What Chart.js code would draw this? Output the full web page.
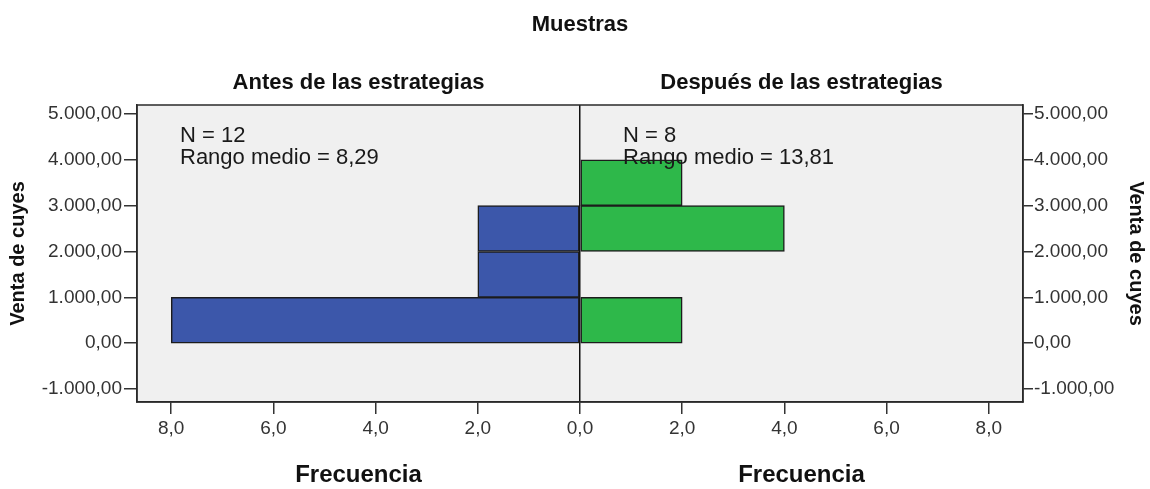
<!DOCTYPE html>
<html>
<head>
<meta charset="utf-8">
<title>Muestras</title>
<script src="https://cdn.jsdelivr.net/npm/chart.js@4.4.0/dist/chart.umd.min.js"></script>
<style>
  html, body { margin: 0; padding: 0; background: #ffffff; }
  #wrap { width: 1150px; height: 489px; }
</style>
</head>
<body>
<div id="wrap"><canvas id="c" width="1150" height="489"></canvas></div>
<script>
// Histogram bins (centre of each 1.000 wide class of "Venta de cuyes")
const binCenters = [500, 1500, 2500, 3500];
// Frequencies per bin for each sample
const antes = [8, 2, 2, 0];
const despues = [2, 0, 4, 2];
// Axis ticks
const yTicks = [-1000, 0, 1000, 2000, 3000, 4000, 5000];
const xTicks = [-8, -6, -4, -2, 0, 2, 4, 6, 8];
// Texts
const mainTitle = 'Muestras';
const groupTitles = ['Antes de las estrategias', 'Después de las estrategias'];
const groupStats = [['N = 12', 'Rango medio = 8,29'], ['N = 8', 'Rango medio = 13,81']];
const yTitle = 'Venta de cuyes';
const xTitle = 'Frecuencia';

const BLUE = '#3c57aa';
const GREEN = '#2eb84a';
const EDGE = '#1c1c1c';
const TEXT = '#111111';
const TICKTXT = '#333333';
const SANS = '"Liberation Sans", Arial, Helvetica, sans-serif';

function fmtThousands(v) {
  const neg = v < 0;
  const parts = Math.abs(v).toFixed(2).split('.');
  const ip = parts[0].replace(/\B(?=(\d{3})+(?!\d))/g, '.');
  return (neg ? '-' : '') + ip + ',' + parts[1];
}
function fmtFreq(v) {
  return Math.abs(v).toFixed(1).replace('.', ',');
}

// Plot frame: light grey panel background and dark outline
const framePlugin = {
  id: 'frame',
  beforeDraw(chart) {
    const a = chart.chartArea, ctx = chart.ctx;
    ctx.save();
    ctx.fillStyle = '#f0f0f0';
    ctx.fillRect(a.left, a.top, a.right - a.left, a.bottom - a.top);
    ctx.restore();
  },
  afterDraw(chart) {
    const a = chart.chartArea, ctx = chart.ctx;
    ctx.save();
    ctx.strokeStyle = '#2a2a2a';
    ctx.lineWidth = 1.5;
    ctx.strokeRect(a.left, a.top, a.right - a.left, a.bottom - a.top);
    ctx.restore();
  }
};

// Titles, group headings, summary statistics and axis titles
const textPlugin = {
  id: 'texts',
  afterDraw(chart) {
    const ctx = chart.ctx, a = chart.chartArea;
    const xs = chart.scales.x;
    const mid = xs.getPixelForValue(0);
    const leftC = (a.left + mid) / 2;
    const rightC = (mid + a.right) / 2;
    ctx.save();
    ctx.fillStyle = TEXT;
    ctx.textAlign = 'center';
    ctx.textBaseline = 'middle';

    ctx.font = 'bold 22px ' + SANS;
    ctx.fillText(mainTitle, mid, 25);
    ctx.fillText(groupTitles[0], leftC, 83);
    ctx.fillText(groupTitles[1], rightC, 83);

    ctx.font = 'bold 24px ' + SANS;
    ctx.fillText(xTitle, leftC, 475);
    ctx.fillText(xTitle, rightC, 475);

    ctx.font = '22px ' + SANS;
    ctx.textAlign = 'left';
    ctx.fillStyle = '#1a1a1a';
    const offs = [a.left + 43, mid + 43];
    groupStats.forEach((lines, g) => {
      ctx.fillText(lines[0], offs[g], 136);
      ctx.fillText(lines[1], offs[g], 158);
    });

    ctx.fillStyle = TEXT;
    ctx.font = 'bold 20px ' + SANS;
    ctx.textAlign = 'center';
    const yc = (a.top + a.bottom) / 2;
    ctx.save();
    ctx.translate(18, yc);
    ctx.rotate(-Math.PI / 2);
    ctx.fillText(yTitle, 0, 0);
    ctx.restore();
    ctx.save();
    ctx.translate(1136, yc);
    ctx.rotate(Math.PI / 2);
    ctx.fillText(yTitle, 0, 0);
    ctx.restore();
    ctx.restore();
  }
};

const barCommon = {
  borderColor: EDGE,
  borderWidth: 1.5,
  borderSkipped: false,
  grouped: false,
  barPercentage: 1,
  categoryPercentage: 1,
  xAxisID: 'x',
  yAxisID: 'y'
};

const yScaleBase = {
  type: 'linear',
  min: -1284,
  max: 5196,
  offset: false,
  afterBuildTicks: s => { s.ticks = yTicks.map(v => ({ value: v })); },
  grid: { offset: false, drawOnChartArea: false, drawTicks: true, tickLength: 13, tickColor: '#333', lineWidth: 1.5 },
  border: { display: true, color: '#2a2a2a', width: 1.5 },
  ticks: {
    callback: v => fmtThousands(v),
    color: TICKTXT,
    font: { family: SANS, size: 19 },
    padding: 2,
    autoSkip: false
  }
};

new Chart(document.getElementById('c'), {
  type: 'bar',
  data: {
    datasets: [
      Object.assign({
        label: groupTitles[0],
        data: binCenters.map((c, i) => ({ x: -antes[i], y: c })),
        backgroundColor: BLUE
      }, barCommon),
      Object.assign({
        label: groupTitles[1],
        data: binCenters.map((c, i) => ({ x: despues[i], y: c })),
        backgroundColor: GREEN
      }, barCommon)
    ]
  },
  options: {
    indexAxis: 'y',
    responsive: false,
    devicePixelRatio: 1,
    animation: false,
    layout: { padding: { top: 105, left: 0, right: 0, bottom: 0 } },
    plugins: { legend: { display: false }, tooltip: { enabled: false }, title: { display: false } },
    scales: {
      x: {
        type: 'linear',
        position: 'bottom',
        min: -8.67,
        max: 8.67,
        offset: false,
        z: 1,
        afterBuildTicks: s => { s.ticks = xTicks.map(v => ({ value: v })); },
        afterFit: s => { s.height = 87; },
        grid: {
          offset: false,
          drawOnChartArea: true,
          drawTicks: true,
          tickLength: 12,
          tickColor: '#333',
          lineWidth: 1.5,
          color: c => (c.tick && c.tick.value === 0) ? '#111111' : 'rgba(0,0,0,0)'
        },
        border: { display: true, color: '#2a2a2a', width: 1.5 },
        ticks: {
          callback: v => fmtFreq(v),
          color: TICKTXT,
          font: { family: SANS, size: 19 },
          padding: 3,
          maxRotation: 0,
          autoSkip: false
        }
      },
      y: Object.assign({}, yScaleBase, {
        position: 'left',
        afterFit: s => { s.width = 137; }
      }),
      y2: Object.assign({}, yScaleBase, {
        position: 'right',
        afterFit: s => { s.width = 127; },
        grid: { offset: false, drawOnChartArea: false, drawTicks: true, tickLength: 10, tickColor: '#333', lineWidth: 1.5 },
        ticks: Object.assign({}, yScaleBase.ticks, { padding: 1 })
      })
    }
  },
  plugins: [framePlugin, textPlugin]
});
</script>
</body>
</html>
